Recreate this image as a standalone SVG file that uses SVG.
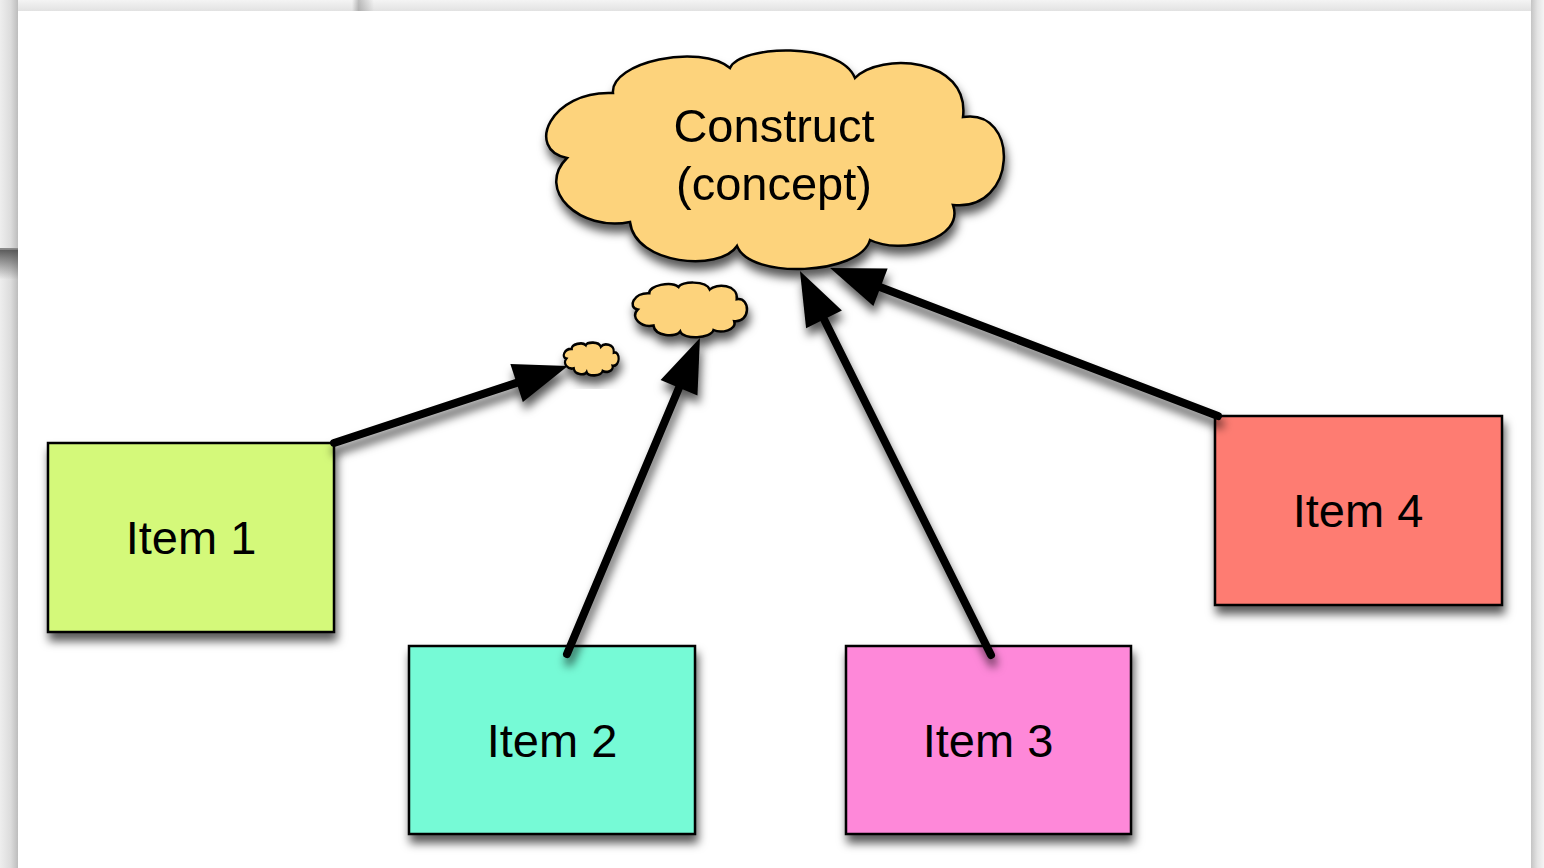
<svg xmlns="http://www.w3.org/2000/svg" width="1544" height="868" viewBox="0 0 1544 868">
  <defs>
    <style>
      .box { stroke: #000; stroke-width: 2.5; filter: url(#shadow); }
      .cloud { fill: #fdd37b; stroke: #000; stroke-width: 2.5; }
      .label { font-family: "Liberation Sans", Arial, Helvetica, sans-serif; font-size: 47px; fill: #000; text-anchor: middle; }
      .link { fill: none; stroke: #000; stroke-width: 8; stroke-linecap: round; marker-end: url(#head); }
    </style>
    <filter id="shadow" x="-20%" y="-20%" width="140%" height="160%">
      <feDropShadow dx="2" dy="8" stdDeviation="5" flood-color="#000" flood-opacity="0.65"/>
    </filter>
    <marker id="head" markerUnits="userSpaceOnUse" markerWidth="60" markerHeight="44" refX="0" refY="22" orient="auto" overflow="visible">
      <path d="M0,2 L54,22 L0,42 Z" fill="#000"/>
    </marker>
    <linearGradient id="leftEdge" x1="0" y1="0" x2="1" y2="0">
      <stop offset="0" stop-color="#eeeeee"/>
      <stop offset="0.6" stop-color="#dcdcdc"/>
      <stop offset="1" stop-color="#bdbdbd"/>
    </linearGradient>
    <linearGradient id="rightEdge" x1="0" y1="0" x2="1" y2="0">
      <stop offset="0" stop-color="#c4c4c4"/>
      <stop offset="0.5" stop-color="#e4e4e4"/>
      <stop offset="1" stop-color="#f4f4f4"/>
    </linearGradient>
    <linearGradient id="topEdge" x1="0" y1="0" x2="0" y2="1">
      <stop offset="0" stop-color="#f4f4f4"/>
      <stop offset="1" stop-color="#e2e2e2"/>
    </linearGradient>
    <linearGradient id="winShade" x1="0" y1="0" x2="0" y2="1">
      <stop offset="0" stop-color="#4a4a4a" stop-opacity="0.9"/>
      <stop offset="1" stop-color="#4a4a4a" stop-opacity="0"/>
    </linearGradient>
    <linearGradient id="winEdge" x1="0" y1="0" x2="1" y2="0">
      <stop offset="0" stop-color="#000" stop-opacity="0"/>
      <stop offset="0.3" stop-color="#000" stop-opacity="0.22"/>
      <stop offset="1" stop-color="#000" stop-opacity="0"/>
    </linearGradient>
    <path id="cloudShape" d="M567,158 C525,150 550,90 613,93 C610,62 700,43 730,68 C740,45 840,41 855,78 C880,52 970,57 963,117 C1020,108 1018,212 953,205 C965,240 900,255 870,240 C860,275 750,280 737,246 C720,272 635,265 630,222 C580,232 535,190 567,158 Z"/>
  </defs>

  <!-- desktop behind the page -->
  <rect x="0" y="0" width="1544" height="868" fill="#ececec"/>
  <rect x="0" y="0" width="1544" height="11" fill="url(#topEdge)"/>
  <rect x="352" y="0" width="22" height="11" fill="url(#winEdge)"/>
  <rect x="0" y="0" width="18" height="868" fill="url(#leftEdge)"/>
  <rect x="0" y="248" width="18" height="1.5" fill="#8a8a8a"/>
  <rect x="0" y="249.5" width="18" height="30" fill="url(#winShade)"/>
  <rect x="1531" y="0" width="13" height="868" fill="url(#rightEdge)"/>

  <!-- canvas -->
  <rect x="18" y="11" width="1513" height="857" fill="#ffffff"/>

  <g id="construct" filter="url(#shadow)">
    <use href="#cloudShape" class="cloud"/>
    <text class="label" x="774" y="142">Construct</text>
    <text class="label" x="774" y="200">(concept)</text>
  </g>

  <g id="thought-medium" filter="url(#shadow)">
    <use href="#cloudShape" class="cloud" transform="translate(496 270) scale(0.25)" style="stroke-width:10"/>
  </g>

  <g id="thought-small" filter="url(#shadow)">
    <use href="#cloudShape" class="cloud" transform="translate(498.2 335) scale(0.12 0.15)" style="stroke-width:18"/>
  </g>

  <g id="item1">
    <rect class="box" x="48" y="443" width="286" height="189" fill="#d4f97a"/>
    <text class="label" x="191" y="554">Item 1</text>
  </g>

  <g id="item2">
    <rect class="box" x="409" y="646" width="286" height="188" fill="#76fad6"/>
    <text class="label" x="552" y="757">Item 2</text>
  </g>

  <g id="item3">
    <rect class="box" x="846" y="646" width="285" height="188" fill="#fe88d9"/>
    <text class="label" x="988" y="757">Item 3</text>
  </g>

  <g id="item4">
    <rect class="box" x="1215" y="416" width="287" height="189" fill="#fe7b72"/>
    <text class="label" x="1358" y="527">Item 4</text>
  </g>

  <g id="connectors" filter="url(#shadow)">
    <line class="link" x1="334" y1="443" x2="516.6" y2="382.9"/>
    <line class="link" x1="567" y1="654" x2="679" y2="387.7"/>
    <line class="link" x1="991" y1="655" x2="824" y2="319.3"/>
    <line class="link" x1="1218" y1="416" x2="880.5" y2="287.3"/>
  </g>
</svg>
